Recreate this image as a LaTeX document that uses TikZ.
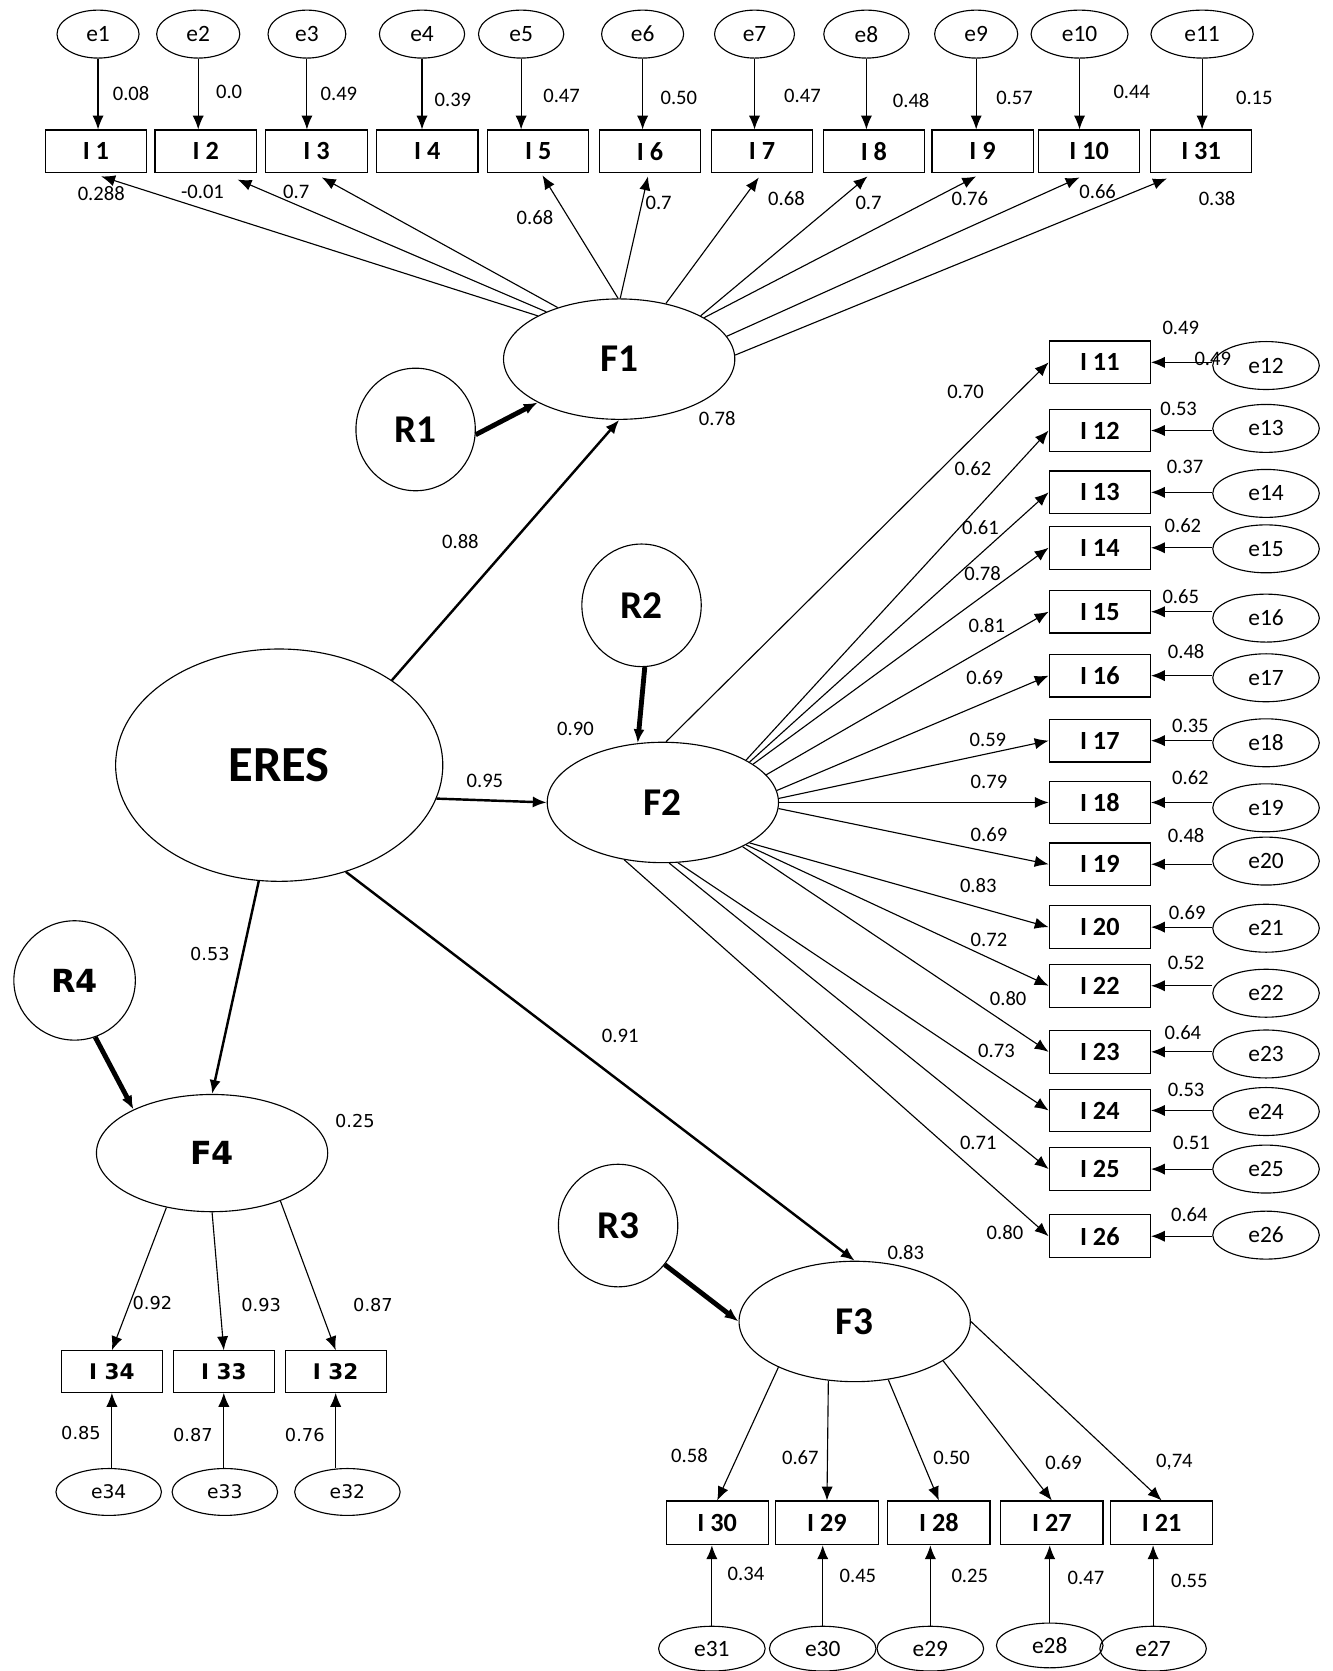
\documentclass[tikz,border=0pt]{standalone}
\usepackage{fontspec}
\setmainfont{Carlito}
\newfontfamily\verd{DejaVu Sans}
\usetikzlibrary{arrows.meta,shapes.geometric,calc}

\begin{document}
\begin{tikzpicture}[
    x=0.2mm, y=-0.2mm,
    >={Latex[length=2.6mm,width=2.1mm]},
    latent/.style={ellipse, draw, line width=0.6pt, inner sep=0pt,
      minimum width=43.4mm, minimum height=22.6mm,
      font=\fontsize{21}{24}\selectfont\bfseries},
    resid/.style={ellipse, draw, line width=0.6pt, inner sep=0pt,
      minimum width=22.4mm, minimum height=23mm,
      font=\fontsize{21}{24}\selectfont\bfseries},
    item/.style={rectangle, draw, line width=0.6pt, inner sep=0pt,
      minimum width=19mm, minimum height=8mm,
      font=\fontsize{14}{16}\selectfont\bfseries},
    err/.style={ellipse, draw, line width=0.6pt, inner sep=0pt,
      minimum width=15.6mm, minimum height=9mm,
      font=\fontsize{12.5}{14}\selectfont},
    coef/.style={inner sep=0pt, font=\fontsize{11}{13}\selectfont},
    vlatent/.style={latent, font=\verd\fontsize{17}{20}\selectfont\bfseries},
    vitem/.style={item, minimum height=7.8mm, font=\verd\fontsize{11.5}{13}\selectfont\bfseries},
    verr/.style={err, minimum width=19.8mm, minimum height=8.8mm, font=\verd\fontsize{10}{12}\selectfont},
    vcoef/.style={coef, font=\verd\fontsize{9.5}{11}\selectfont},
    load/.style={->, line width=0.6pt},
    struct/.style={->, line width=1.3pt},
    dist/.style={->, line width=2.6pt}
  ]
\useasboundingbox (0,0) rectangle (1250,1568);

% second order factor
\node[latent, minimum width=61.4mm, minimum height=43.6mm,
  font=\fontsize{27}{30}\selectfont\bfseries] (eres) at (262,718) {ERES};

% first order factors and disturbances
\node[latent] (f1) at (581,337) {F1};
\node[latent] (f2) at (622,753) {F2};
\node[latent] (f3) at (802,1240) {F3};
\node[vlatent, minimum height=22mm] (f4) at (199,1082) {F4};
\node[resid] (r1) at (390,403) {R1};
\node[resid] (r2) at (602,568) {R2};
\node[resid] (r3) at (580,1150) {R3};
\node[resid, minimum width=22.8mm, minimum height=22.4mm,
  font=\verd\fontsize{17}{20}\selectfont\bfseries] (r4) at (70,920) {R4};

\draw[struct] (eres.37) -- (f1.south);
\draw[struct] (eres.348) -- (f2.west);
\draw[struct] (eres.302) -- (f3.north);
\draw[struct] (eres.260) -- (f4.north);
\node[coef] (p1) at (432,508) {0.88};
\node[coef] (p2) at (455,733) {0.95};
\node[coef] (p3) at (582,972) {0.91};
\node[vcoef] (p4) at (197,895) {0.53};

\draw[dist] (r1.355) -- (f1.208);
\draw[dist] (r2.273) -- (f2.113);
\draw[dist] (r3.320) -- (f3.west);
\draw[dist] (r4.290) -- (f4.151);
\node[coef] (q1) at (673,393) {0.78};
\node[coef] (q2) at (540,684) {0.90};
\node[coef] (q3) at (850,1175) {0.83};
\node[vcoef] (q4) at (333,1052) {0.25};

% F1: top row
\foreach \n/\ex/\ew/\k/\ix/\vv/\vx/\vy in {
  1/92/15.4/1/90/0.08/123/88, 2/186/15.6/2/193/0.0/215/86,
  3/288/14.6/3/297/0.49/318/88, 4/396/16/4/401/0.39/425/94,
  5/489/16/5/505/0.47/527/90, 6/603/15.4/6/610/0.50/637/92,
  7/708/15/7/715/0.47/753/90, 8/813/16/8/820/0.48/855/94,
  9/916/15.6/9/922/0.57/952/92, 10/1013/18.2/10/1022/0.44/1062/86,
  11/1128/19.2/31/1127/0.15/1177/92}
{
  \node[err, minimum width=\ew mm] (e\n) at (\ex,32) {e\n};
  \node[item] (i\k) at (\ix,142) {I \k};
  \draw[load] (e\n) -- (e\n |- i\k.north);
  \node[coef] (w\n) at (\vx,\vy) {\vv};
}
\foreach \k/\a/\dx/\dy/\vv/\vx/\vy in {
  1/152/5/3/0.288/95/182, 2/147/30/6/-0.01/190/180,
  3/140/5/4/0.7/278/180, 5/91/4/2/0.68/502/204,
  6/89/-2/3/0.7/618/190, 7/50/-3/4/0.68/738/186,
  8/28/-6/3/0.7/815/190, 9/26/-6/3/0.76/910/186,
  10/12/-9/4/0.66/1030/180, 31/2/-32/5/0.38/1142/186}
{
  \draw[load] (f1.\a) -- ($(i\k.south)+(\dx,\dy)$);
  \node[coef] (l\k) at (\vx,\vy) {\vv};
}

% F2: right column
\foreach \k/\m/\iy/\ey/\a/\vv/\vx/\vy/\ww/\wx/\wy in {
  11/12/340/343/87/0.70/906/368/0.49/1108/308,
  12/13/404/402/27/0.62/913/440/0.53/1106/384,
  13/14/462/463/25/0.61/920/495/0.37/1112/438,
  14/15/514/515/23/0.78/922/538/0.62/1110/493,
  15/16/574/580/15/0.81/926/587/0.65/1108/560,
  16/17/634/636/6/0.69/924/636/0.48/1113/611,
  17/18/695/697/2/0.59/927/694/0.35/1117/681,
  18/19/753/758/0/0.79/928/734/0.62/1117/730,
  19/20/811/808/357/0.69/928/783/0.48/1113/784,
  20/21/870/871/335/0.83/918/831/0.69/1114/856,
  22/22/925/932/333/0.72/928/882/0.52/1113/904,
  23/23/987/989/331/0.80/946/937/0.64/1110/969,
  24/24/1042/1043/284/0.73/935/986/0.53/1113/1023,
  25/25/1097/1097/276/0.71/918/1072/0.51/1118/1072,
  26/26/1160/1159/236/0.80/943/1157/0.64/1116/1140}
{
  \node[item] (i\k) at (1032,\iy) {I \k};
  \node[err, minimum width=20mm] (e\m) at (1188,\ey) {e\m};
  \draw[load] (i\k.east -| e\m.west) -- (i\k.east);
  \draw[load] (f2.\a) -- (i\k.west);
  \node[coef] (l\k) at (\vx,\vy) {\vv};
  \node[coef] (w\m) at (\wx,\wy) {\ww};
}
\node[coef] (w12b) at (1138,337) {0.49};

% F3: bottom row
\foreach \k/\m/\ix/\ex/\ey/\a/\vv/\vx/\vy/\ww/\wx/\wy in {
  30/31/673/668/1547/211/0.58/647/1366/0.34/700/1477,
  29/30/776/772/1547/246/0.67/751/1368/0.45/805/1479,
  28/29/881/873/1547/300/0.50/893/1368/0.25/910/1479,
  27/28/987/985/1544/336/0.69/998/1372/0.47/1019/1481,
  21/27/1090/1082/1547/0/{0,74}/1102/1372/0.55/1116/1483}
{
  \node[item, minimum width=19.2mm, minimum height=8.2mm] (i\k) at (\ix,1429) {I \k};
  \node[err, minimum width=20mm, minimum height=8.4mm] (e\m) at (\ex,\ey) {e\m};
  \draw[load] (e\m) -- (e\m |- i\k.south);
  \draw[load] (f3.\a) -- (i\k.north);
  \node[coef] (l\k) at (\vx,\vy) {\vv};
  \node[coef] (w\m) at (\wx,\wy) {\ww};
}

% F4: lower left
\foreach \k/\ix/\ex/\a/\vv/\vx/\vy/\ww/\wx/\wy in {
  34/105/102/230/0.92/143/1223/0.85/76/1345,
  33/210/211/270/0.93/245/1225/0.87/181/1347,
  32/315/326/325/0.87/350/1225/0.76/286/1347}
{
  \node[vitem] (i\k) at (\ix,1287) {I \k};
  \node[verr] (e\k) at (\ex,1400) {e\k};
  \draw[load] (i\k.south |- e\k.north) -- (i\k.south);
  \draw[load] (f4.\a) -- (i\k.north);
  \node[vcoef] (l\k) at (\vx,\vy) {\vv};
  \node[vcoef] (w\k) at (\wx,\wy) {\ww};
}

\end{tikzpicture}
\end{document}
